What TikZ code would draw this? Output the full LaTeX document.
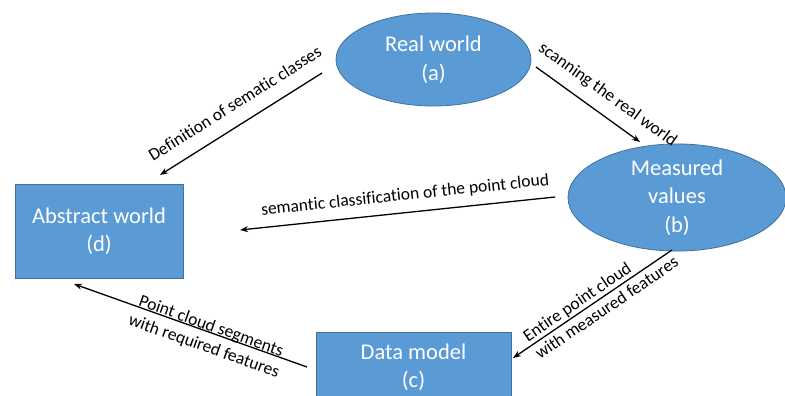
\documentclass[tikz,border=0pt]{standalone}
\usepackage{fontspec}
\setmainfont{Carlito}[Ligatures={NoCommon,NoContextual,NoDiscretionary}]
\usetikzlibrary{shapes.geometric,arrows.meta}
\definecolor{boxfill}{HTML}{5B9BD5}
\definecolor{boxline}{HTML}{41719C}
\begin{document}
\begin{tikzpicture}[x=1pt,y=-1pt,
  blob/.style={fill=boxfill,draw=boxline,line width=0.8pt,text=white,align=center,
    font=\fontsize{22.5}{28.5}\selectfont,inner sep=0pt},
  ell/.style={blob,ellipse},
  rect/.style={blob,rectangle},
  arr/.style={line width=1.3pt,-{Stealth[length=8pt,width=6pt]}},
  lbl/.style={font=\fontsize{17.5}{21.5}\selectfont,inner sep=2pt}]
\useasboundingbox (0,0) rectangle (785,396);
\node[ell,minimum width=195pt,minimum height=93pt] (a) at (433.5,59.5) {Real world\\(a)};
\node[ell,minimum width=218pt,minimum height=91pt] (b) at (677,197.5) {Measured\\values\\(b)};
\node[rect,minimum width=168pt,minimum height=94pt] (d) at (99,231) {Abstract world\\(d)};
\node[rect,minimum width=195pt,minimum height=70pt] (c) at (413.5,367) {Data model\\(c)};
% connector ends
\coordinate (ad1) at (322,73);  \coordinate (ad2) at (160,175);
\coordinate (ab1) at (536,67);  \coordinate (ab2) at (640,142);
\coordinate (bd1) at (555,197); \coordinate (bd2) at (240,230);
\coordinate (bc1) at (672,250); \coordinate (bc2) at (513,358);
\coordinate (cd1) at (307,367); \coordinate (cd2) at (74,284);
\draw[arr] (ad1) -- node[lbl,sloped,above=12pt,pos=0.47] {Definition of sematic classes} (ad2);
\draw[arr] (ab1) -- node[lbl,sloped,above=9pt,pos=0.58] {scanning the real world} (ab2);
\draw[arr] (bd1) -- node[lbl,sloped,above=7pt,pos=0.47] {semantic classification of the point cloud} (bd2);
\draw[arr] (bc1) -- node[lbl,sloped,align=left,pos=0.45] {Entire point cloud\\with measured features} (bc2);
\draw[arr] (cd1) -- node[lbl,sloped,align=center,pos=0.42,below=-16pt] {Point cloud segments\\with required features} (cd2);
\end{tikzpicture}
\end{document}
